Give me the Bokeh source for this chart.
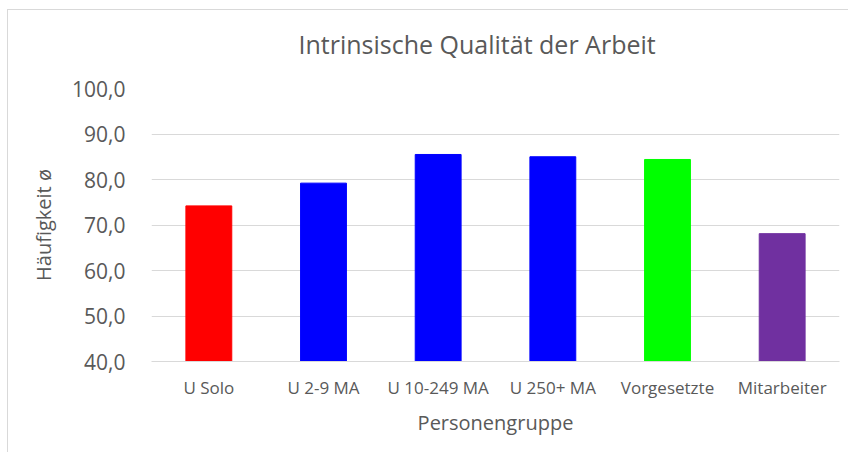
from bokeh.plotting import figure
from bokeh.models import ColumnDataSource, CustomJSTickFormatter, FixedTicker, Title
from bokeh.embed import file_html
from bokeh.resources import INLINE

categories = ["U Solo", "U 2-9 MA", "U 10-249 MA", "U 250+ MA", "Vorgesetzte", "Mitarbeiter"]
values = [74.2, 79.2, 85.5, 85.0, 84.4, 68.1]
colors = ["#ff0000", "#0000ff", "#0000ff", "#0000ff", "#00ff00", "#7030a0"]
y_ticks = [40, 50, 60, 70, 80, 90, 100]
title_text = "Intrinsische Qualität der Arbeit"

FONT = "Open Sans"
TXT = "#595959"

src = ColumnDataSource(dict(cat=categories, val=values, col=colors))

p = figure(x_range=categories, y_range=(40, 100), width=841, height=443,
           output_backend="svg", toolbar_location=None, title=None,
           min_border_left=143, min_border_right=10, min_border_top=78, min_border_bottom=92)

p.vbar(x="cat", top="val", bottom=40, width=0.4, color="col", source=src)

# spacer between frame and title (nearest to the frame)
spacer = Title(text=" ", text_font_size="1px", standoff=15, text_color="white")
p.add_layout(spacer, "above")

main_title = Title(text=title_text, align="left", text_font=FONT, text_font_size="25px",
                   text_font_style="normal", text_color=TXT, offset=147, standoff=20)
p.add_layout(main_title, "above")

p.outline_line_color = None
p.border_fill_color = "white"

p.yaxis.ticker = FixedTicker(ticks=y_ticks)
p.yaxis.formatter = CustomJSTickFormatter(code="return tick.toFixed(1).replace('.', ',');")
p.yaxis.axis_line_color = None
p.yaxis.major_tick_line_color = None
p.yaxis.minor_tick_line_color = None
p.yaxis.major_label_text_font = FONT
p.yaxis.major_label_text_font_size = "21px"
p.yaxis.major_label_text_color = TXT
p.yaxis.major_label_standoff = 20
p.yaxis.axis_label = "Häufigkeit ø"
p.yaxis.axis_label_text_font = FONT
p.yaxis.axis_label_text_font_size = "20px"
p.yaxis.axis_label_text_font_style = "normal"
p.yaxis.axis_label_text_color = TXT
p.yaxis.axis_label_standoff = 12

p.xaxis.axis_line_color = "#d9d9d9"
p.xaxis.major_tick_line_color = None
p.xaxis.minor_tick_line_color = None
p.xaxis.major_label_text_font = FONT
p.xaxis.major_label_text_font_size = "17px"
p.xaxis.major_label_text_color = TXT
p.xaxis.major_label_standoff = 8
p.xaxis.axis_label = "Personengruppe"
p.xaxis.axis_label_text_font = FONT
p.xaxis.axis_label_text_font_size = "20px"
p.xaxis.axis_label_text_font_style = "normal"
p.xaxis.axis_label_text_color = TXT
p.xaxis.axis_label_standoff = 7

p.xgrid.grid_line_color = None
p.ygrid.ticker = FixedTicker(ticks=y_ticks)
p.ygrid.grid_line_color = "#d9d9d9"
p.ygrid.grid_line_width = 1

p.styles = {"margin-left": "7px", "margin-top": "9px",
            "border-left": "1px solid #d9d9d9", "border-top": "1px solid #d9d9d9"}

open("out.html", "w").write(file_html(p, INLINE))
